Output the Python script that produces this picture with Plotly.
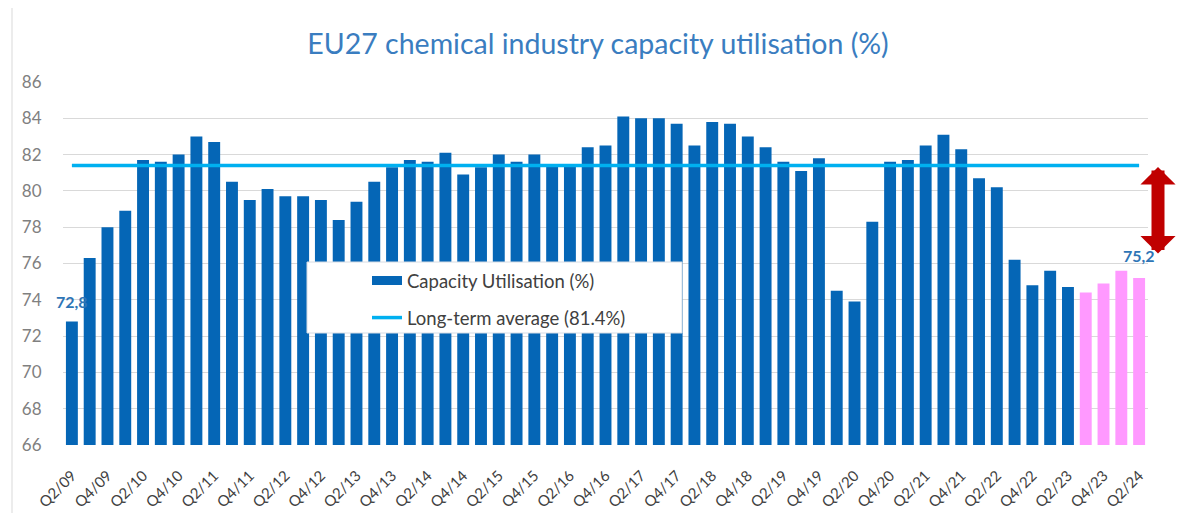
import plotly.graph_objects as go

# ---------------- data ----------------
quarters = [
    "Q2/09", "Q3/09", "Q4/09", "Q1/10", "Q2/10", "Q3/10", "Q4/10", "Q1/11", "Q2/11", "Q3/11",
    "Q4/11", "Q1/12", "Q2/12", "Q3/12", "Q4/12", "Q1/13", "Q2/13", "Q3/13", "Q4/13", "Q1/14",
    "Q2/14", "Q3/14", "Q4/14", "Q1/15", "Q2/15", "Q3/15", "Q4/15", "Q1/16", "Q2/16", "Q3/16",
    "Q4/16", "Q1/17", "Q2/17", "Q3/17", "Q4/17", "Q1/18", "Q2/18", "Q3/18", "Q4/18", "Q1/19",
    "Q2/19", "Q3/19", "Q4/19", "Q1/20", "Q2/20", "Q3/20", "Q4/20", "Q1/21", "Q2/21", "Q3/21",
    "Q4/21", "Q1/22", "Q2/22", "Q3/22", "Q4/22", "Q1/23", "Q2/23",
    "Q3/23", "Q4/23", "Q1/24", "Q2/24",
]
actual_quarters = quarters[:57]
forecast_quarters = quarters[57:]

actual_values = [
    72.8, 76.3, 78.0, 78.9, 81.7, 81.6, 82.0, 83.0, 82.7, 80.5,
    79.5, 80.1, 79.7, 79.7, 79.5, 78.4, 79.4, 80.5, 81.3, 81.7,
    81.6, 82.1, 80.9, 81.3, 82.0, 81.6, 82.0, 81.4, 81.4, 82.4,
    82.5, 84.1, 84.0, 84.0, 83.7, 82.5, 83.8, 83.7, 83.0, 82.4,
    81.6, 81.1, 81.8, 74.5, 73.9, 78.3, 81.6, 81.7, 82.5, 83.1,
    82.3, 80.7, 80.2, 76.2, 74.8, 75.6, 74.7,
]
forecast_values = [74.4, 74.9, 75.6, 75.2]

long_term_average = 81.4
gap_target = 76.55  # lower end of the red gap arrow

tick_labels = quarters[0::2]

first_label = "72,8"
last_label = "75,2"

# ---------------- layout constants (page pixels) ----------------
OFF = 8                      # default body margin of the html page
W, H = 1188 - OFF, 513 - OFF
PL, PR, PT, PB = 63, 1148, 82, 445   # plot area in page pixels
ML, MT = PL - OFF, PT - OFF
MR = W - (PR - OFF)
MB = H - (PB - OFF)


def px_to_paper_x(px):
    return (px - PL) / (PR - PL)


def px_to_paper_y(py):
    return (PB - py) / (PB - PT)


BLUE = "#0566B6"
PINK = "#FF99FF"
CYAN = "#00B0F0"
LABEL_BLUE = "#2E75B6"
FONT = "Lato, 'Open Sans', sans-serif"
CLEAR = "rgba(0,0,0,0)"

fig = go.Figure()

fig.add_trace(go.Bar(
    x=actual_quarters, y=actual_values,
    name="Capacity Utilisation (%)",
    marker=dict(color=BLUE, line=dict(width=0)),
    showlegend=False,
))
fig.add_trace(go.Bar(
    x=forecast_quarters, y=forecast_values,
    name="Forecast",
    marker=dict(color=PINK, line=dict(width=0)),
    showlegend=False,
))
# legend-only entry giving the wide bar swatch of the original legend
fig.add_trace(go.Scatter(
    x=[None], y=[None], mode="lines",
    name="Capacity Utilisation (%)",
    line=dict(color=BLUE, width=9),
    legendgroup="a", hoverinfo="skip",
))
fig.add_trace(go.Scatter(
    x=quarters, y=[long_term_average] * len(quarters),
    mode="lines",
    name="Long-term average (81.4%)",
    line=dict(color=CYAN, width=3.5),
    legendgroup="b",
))

# value labels
fig.add_annotation(x=quarters[0], y=actual_values[0], xref="x", yref="y",
                   text=f"<b>{first_label}</b>", showarrow=False, yshift=20,
                   font=dict(family=FONT, size=16, color=LABEL_BLUE))
fig.add_annotation(x=quarters[-1], y=forecast_values[-1], xref="x", yref="y",
                   text=f"<b>{last_label}</b>", showarrow=False, yshift=23,
                   font=dict(family=FONT, size=16, color=LABEL_BLUE))

# red double arrow showing the gap to the long-term average
fig.add_annotation(
    x=px_to_paper_x(1158), xref="paper", y=gap_target, yref="y",
    ax=0, axref="pixel", ay=long_term_average, ayref="y",
    text="", showarrow=True, arrowside="end+start",
    arrowhead=1, startarrowhead=1, arrowsize=0.45, startarrowsize=0.45,
    arrowwidth=13, arrowcolor="#C00000",
)

# legend background box (opaque over bars)
fig.add_shape(type="rect", xref="paper", yref="paper",
              x0=px_to_paper_x(307), x1=px_to_paper_x(682),
              y0=px_to_paper_y(333), y1=px_to_paper_y(262),
              fillcolor="white", line=dict(color="#D6DCE4", width=1), layer="above")

# outer chart frame
fig.add_shape(type="rect", xref="paper", yref="paper",
              x0=px_to_paper_x(12), x1=px_to_paper_x(1200),
              y0=px_to_paper_y(530), y1=px_to_paper_y(4),
              fillcolor=CLEAR, line=dict(color="#D9D9D9", width=1), layer="below")

fig.update_layout(
    width=W, height=H,
    margin=dict(l=ML, r=MR, t=MT, b=MB, autoexpand=False),
    paper_bgcolor="white", plot_bgcolor="white",
    barmode="overlay", bargap=0.33,
    font=dict(family=FONT, color="#404040"),
    title=dict(text="EU27 chemical industry capacity utilisation (%)",
               x=0.5, xanchor="center", y=1 - (44 - OFF) / H, yanchor="middle",
               yref="container",
               font=dict(family=FONT, size=28.5, color="#3A7DC0")),
    showlegend=True,
    legend=dict(x=px_to_paper_x(367), y=px_to_paper_y(262), xanchor="left", yanchor="top",
                bgcolor=CLEAR, borderwidth=0,
                traceorder="grouped", tracegroupgap=10,
                font=dict(family=FONT, size=18.5, color="#404040")),
    xaxis=dict(type="category", categoryorder="array", categoryarray=quarters,
               range=[-0.5, len(quarters) - 0.5],
               tickmode="array", tickvals=tick_labels, ticktext=tick_labels,
               tickangle=-45, tickfont=dict(family=FONT, size=15, color="#404040"),
               showgrid=False, showline=False, zeroline=False,
               ticks="outside", ticklen=15, tickcolor=CLEAR, automargin=False),
    yaxis=dict(range=[66, 86], dtick=2, tick0=66,
               showgrid=True, gridcolor="#D9D9D9", gridwidth=1,
               zeroline=False, showline=False,
               ticks="outside", ticklen=17, tickcolor=CLEAR, automargin=False,
               tickfont=dict(family=FONT, size=17, color="#808080")),
)

fig.write_html("out.html")
